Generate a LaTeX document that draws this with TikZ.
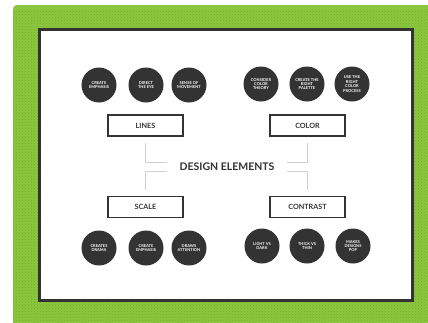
\documentclass[tikz,border=0pt]{standalone}
\usepackage{fontspec}
\setmainfont{Lato}
\usetikzlibrary{positioning,patterns}

\definecolor{leaf}{HTML}{8CC63F}
\definecolor{leafdot}{HTML}{76AE2C}
\definecolor{ink}{HTML}{333333}
\definecolor{wire}{HTML}{CFCFCF}

\begin{document}
\begin{tikzpicture}[x=1pt,y=-1pt,
        dot/.style={circle,fill=ink,minimum size=35pt,inner sep=0pt,align=center,text=white,font=\fontsize{4}{4.4}\selectfont\bfseries},
        topic/.style={draw=ink,line width=1.6pt,minimum width=75pt,minimum height=21pt,text=ink,font=\fontsize{7.2}{8}\selectfont\bfseries},
        wire/.style={draw=wire,line width=0.8pt}]
        \useasboundingbox (0,0) rectangle (428,322);
        % green frame and white panel
        \fill[leaf,rounded corners=4pt] (13,5) rectangle (434,328);
        \fill[pattern=crosshatch dots,pattern color=leafdot] (13,9) rectangle (428,322);
        \draw[line width=3pt,draw=ink,fill=white] (39.5,29.5) rectangle (412,300.5);

        \node[text=ink,font=\fontsize{10.5}{12}\selectfont\bfseries,inner xsep=12pt] (title) at (227,166.5) {DESIGN ELEMENTS};

        \node[topic] (lines) at (145.5,125.5) {LINES};
        \node[topic] (color) at (307.5,125.5) {COLOR};
        \node[topic] (scale) at (145.5,207) {SCALE};
        \node[topic] (contrast) at (307.5,207) {CONTRAST};

        \node[dot] (l1) at (99,85) {CREATE\\EMPHASIS};
        \node[dot] (l2) at (146,85) {DIRECT\\THE EYE};
        \node[dot] (l3) at (189,85) {SENSE OF\\MOVEMENT};
        \node[dot] (c1) at (261,84) {CONSIDER\\COLOR\\THEORY};
        \node[dot] (c2) at (307,84) {CREATE THE\\RIGHT\\PALETTE};
        \node[dot] (c3) at (352,84) {USE THE\\RIGHT\\COLOR\\PROCESS};
        \node[dot] (s1) at (99,248) {CREATES\\DRAMA};
        \node[dot] (s2) at (146,248) {CREATE\\EMPHASIS};
        \node[dot] (s3) at (189,248) {DRAWS\\ATTENTION};
        \node[dot] (k1) at (262,246) {LIGHT VS\\DARK};
        \node[dot] (k2) at (307,246) {THICK VS\\THIN};
        \node[dot] (k3) at (353,246) {MAKES\\DESIGNS\\POP};

        \draw[wire,shorten <=6pt] (lines.south) |- ([yshift=4.5pt]title.west);
        \draw[wire,shorten <=6pt] (color.south) |- ([yshift=4.5pt]title.east);
        \draw[wire,shorten <=6pt] (scale.north) |- ([yshift=-5pt]title.west);
        \draw[wire,shorten <=6pt] (contrast.north) |- ([yshift=-5pt]title.east);
\end{tikzpicture}
\end{document}
